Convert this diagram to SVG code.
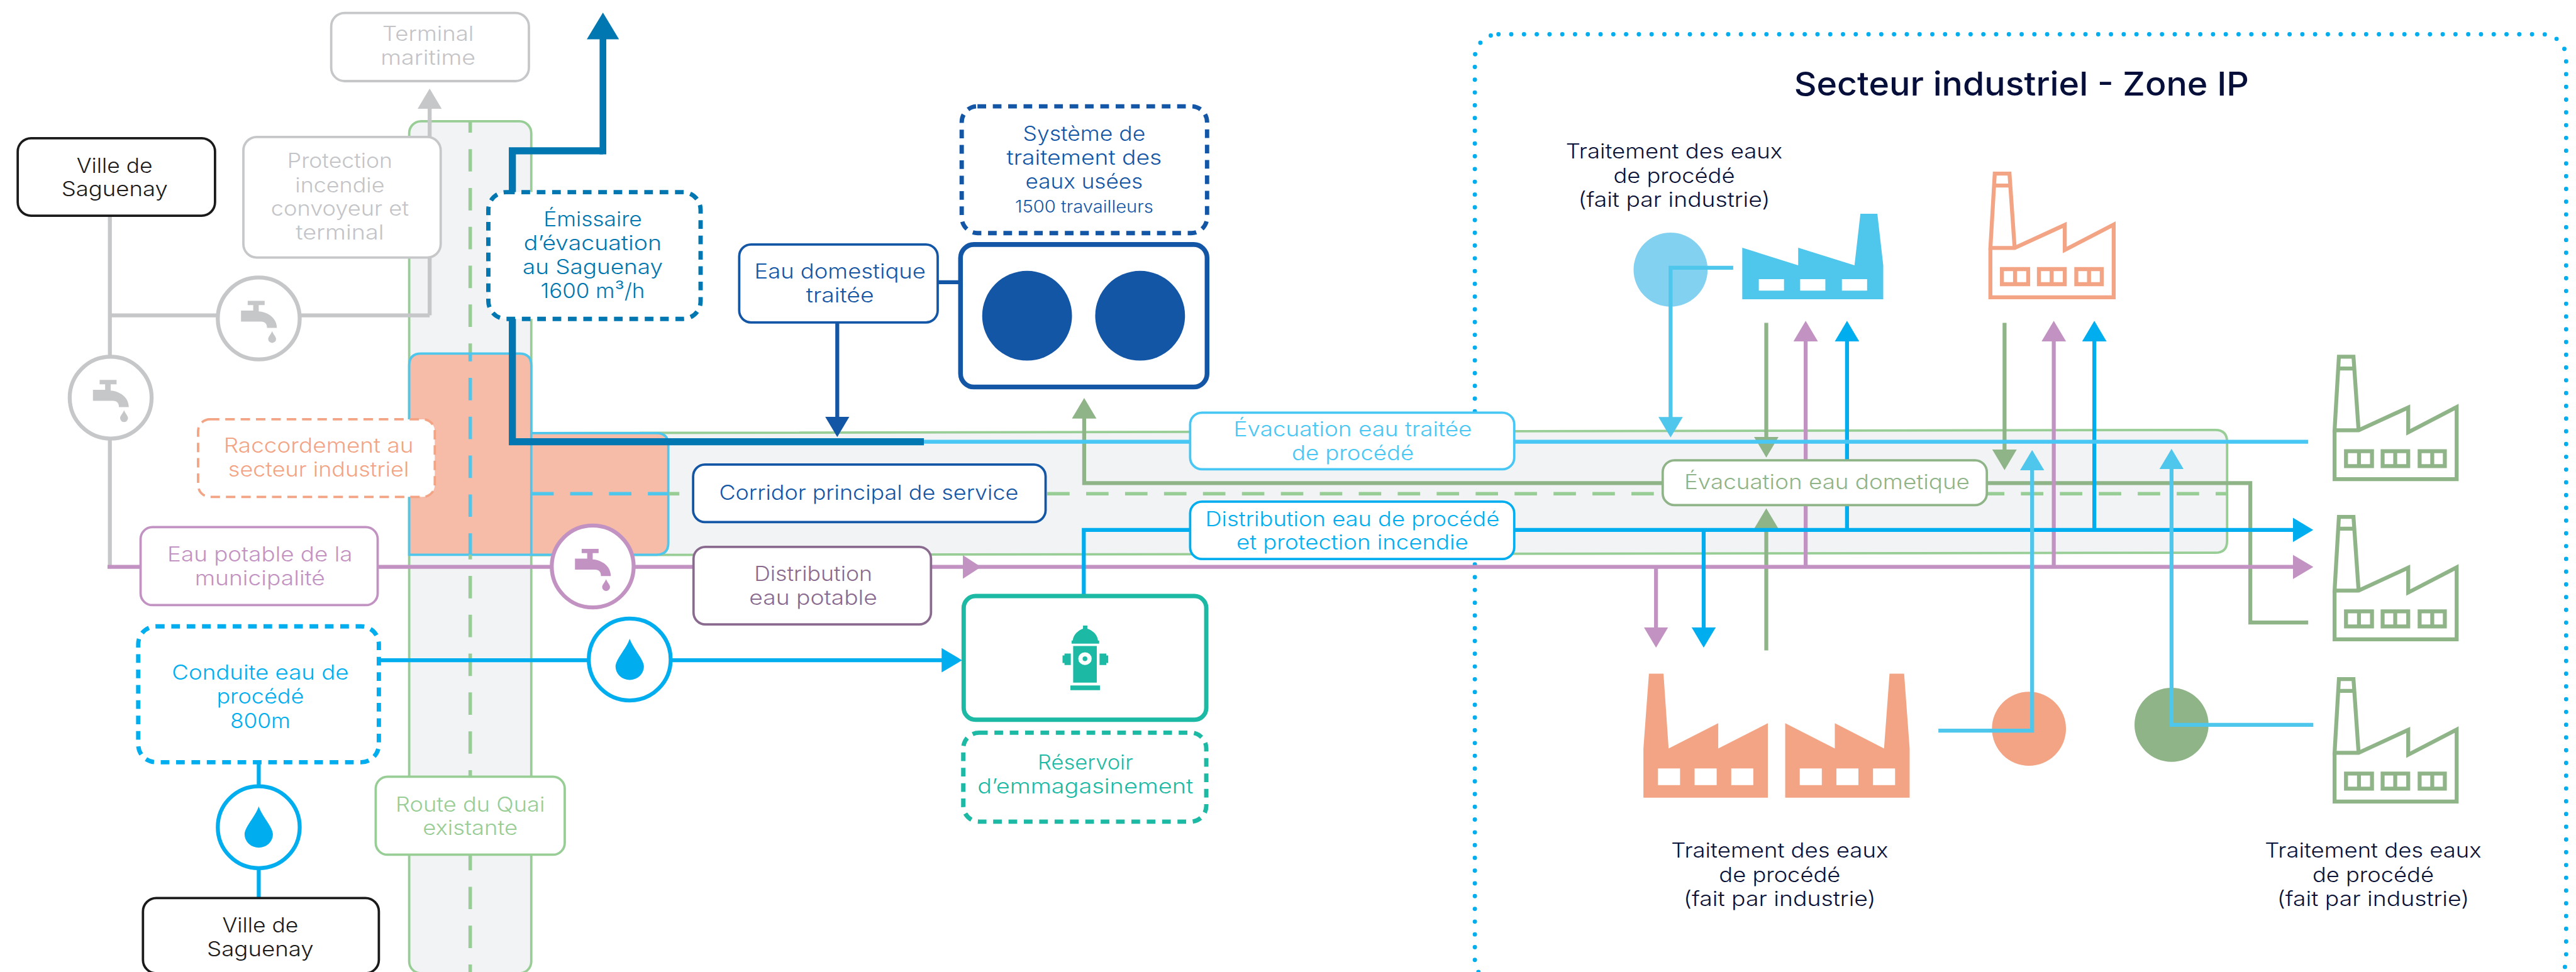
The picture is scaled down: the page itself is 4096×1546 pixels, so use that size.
<svg xmlns="http://www.w3.org/2000/svg" width="4096" height="1546" viewBox="0 0 4096 1546">
<style>
text{font-family:Inter,"Noto Sans",sans-serif;font-weight:300;font-size:53px;text-anchor:middle}
.s40{font-size:42px}
.title{font-size:84px;font-weight:500;fill:#060f3a}
.ink{fill:#0b1238}.black{fill:#1a1a1a}.grey{fill:#c3c4c7}.dk{fill:#0077b0}.navy{fill:#1456a6}.or{fill:#f3a484}.pu{fill:#c293c2}.pd{fill:#8a6b8f}.bl{fill:#00aeef}.lb{fill:#48c7f4}.rg{fill:#98cd96}.gn{fill:#8fb488}.te{fill:#1cb9a5}
.box{fill:#fff;stroke-width:6}
.dash{fill:#fff;stroke-width:11;stroke-dasharray:22 17}
.pipe{fill:none;stroke-width:10}
.cd{fill:none;stroke-width:9;stroke-dasharray:57 41.7}
.fa{fill:none;stroke-width:10}
</style>
<defs>
<marker id="aGrey" markerUnits="userSpaceOnUse" markerWidth="52" markerHeight="62" refX="10" refY="31" orient="auto"><path d="M0,0L52,31L0,62Z" fill="#c6c7c9"/></marker>
<marker id="aNavy" markerUnits="userSpaceOnUse" markerWidth="52" markerHeight="62" refX="10" refY="31" orient="auto"><path d="M0,0L52,31L0,62Z" fill="#1456a6"/></marker>
<marker id="aGreen" markerUnits="userSpaceOnUse" markerWidth="52" markerHeight="62" refX="10" refY="31" orient="auto"><path d="M0,0L52,31L0,62Z" fill="#8fb488"/></marker>
<marker id="aPurple" markerUnits="userSpaceOnUse" markerWidth="52" markerHeight="62" refX="10" refY="31" orient="auto"><path d="M0,0L52,31L0,62Z" fill="#c293c2"/></marker>
<marker id="aBlue" markerUnits="userSpaceOnUse" markerWidth="52" markerHeight="62" refX="10" refY="31" orient="auto"><path d="M0,0L52,31L0,62Z" fill="#00aeef"/></marker>
<marker id="aLight" markerUnits="userSpaceOnUse" markerWidth="52" markerHeight="62" refX="10" refY="31" orient="auto"><path d="M0,0L52,31L0,62Z" fill="#4fc6ec"/></marker>
<marker id="aDark" markerUnits="userSpaceOnUse" markerWidth="68" markerHeight="82" refX="10" refY="41" orient="auto"><path d="M0,0L68,41L0,82Z" fill="#0077b0"/></marker>
<path id="tap" d="M-28,-45H15V-34H0V-18C25,-16 46,0 46,24H21C21,14 16,8 6,8H-45V-20H-14V-34H-28ZM34,32C37,40 44,46 44,52A10,10 0 0 1 24,52C24,46 31,40 34,32Z"/>
<path id="drop" d="M0,-53C8,-28 36,0 36,18A36,34 0 0 1 -36,18C-36,0 -8,-28 0,-53Z"/>
<g id="factory">
<path class="fa" d="M4,191V315H314V132L191,196V133L65,191H4L15,4H52L65,191M11,34H57"/>
<path class="fa" d="M33,244H99V282H33ZM66,244V282M126,244H191V282H126ZM158,244V282M220,244H284V282H220ZM252,244V282"/>
</g>
<path id="filledFactoryA" d="M4173,1901L4187,1711H4224L4237,1901L4363,1837V1901L4489,1837V2026H4173ZM4210,1952V1994H4266V1952ZM4303,1952V1994H4359V1952ZM4396,1952V1994H4452V1952Z" fill-rule="evenodd"/>
</defs>
<rect width="4096" height="1546" fill="#fff"/>
<g transform="scale(0.6262)">

<rect id="zone-frame" x="3745" y="87" width="2771" height="2410" rx="60" fill="none" stroke="#00aeef" stroke-width="11" stroke-linecap="round" stroke-dasharray="0 32.4"/>

<g id="road">
<rect x="1039" y="308" width="310" height="2164" rx="30" fill="#f1f3f5" stroke="#98cd96" stroke-width="6"/>
<path class="cd" stroke="#98cd96" stroke-dashoffset="28" d="M1194,308V898"/>
</g>
<g id="corridor">
<path d="M1349,1100L5625,1092Q5655,1092 5655,1122V1374Q5655,1404 5625,1404L1349,1410Z" fill="#f1f3f5" stroke="#98cd96" stroke-width="6"/>
<path class="cd" stroke="#98cd96" style="stroke-dasharray:57 41.9" d="M2659,1254H5654"/>
</g>
<g id="raccordement-zone">
<path d="M1039,1409V928Q1039,898 1069,898H1319Q1349,898 1349,928V1100H1667Q1697,1100 1697,1130V1379Q1697,1409 1667,1409ZM1349,928V1409" fill="#f6bca8" stroke="#4fc6ec" stroke-width="6"/>
<path class="cd" stroke="#4fc6ec" stroke-dashoffset="37" d="M1194,898V1409"/>
<path class="cd" stroke="#4fc6ec" d="M1349,1254H1699"/>
<path class="pipe" stroke="#98cd96" d="M1699,1254H1725" style="stroke-width:9"/>
<path class="cd" stroke="#98cd96" stroke-dashoffset="45" d="M1194,1409V2469"/>
</g>

<g id="factory-blue">
<circle cx="4242" cy="685" r="94" fill="#83d1f1"/>
<path fill="#4fc6ec" fill-rule="evenodd" d="M4424,629L4566,674V629L4709,674L4724,543H4767L4782,674V760H4424ZM4466,709V738H4530V709ZM4571,709V738H4635V709ZM4677,709V738H4741V709Z"/>
</g>
<use id="factory-top" href="#factory" transform="translate(5050,437) scale(1.01)" stroke="#f3a484"/>
<g id="factory-salmon">
<circle cx="5152" cy="1851" r="94" fill="#f3a484"/>
<use href="#filledFactoryA" fill="#f3a484"/>
<path fill="#f3a484" fill-rule="evenodd" d="M4849,1901L4835,1711H4798L4784,1901L4659,1837V1901L4533,1837V2026H4849ZM4570,1952V1994H4626V1952ZM4663,1952V1994H4719V1952ZM4756,1952V1994H4812V1952Z"/>
</g>
<circle id="circle-green" cx="5514" cy="1841" r="94" fill="#8fb488"/>
<use id="factory-r1" href="#factory" transform="translate(5924,902)" stroke="#8fb488"/>
<use id="factory-r2" href="#factory" transform="translate(5924,1309)" stroke="#8fb488"/>
<use id="factory-r3" href="#factory" transform="translate(5924,1721)" stroke="#8fb488"/>

<g id="connectors">
<path class="pipe" stroke="#c6c7c9" d="M279,548V1440M279,801H1091"/>
<path class="pipe" stroke="#c6c7c9" marker-end="url(#aGrey)" d="M1091,801V267"/>
<path class="pipe" stroke="#1456a6" d="M2381,717H2439"/>
<path class="pipe" stroke="#8fb488" marker-end="url(#aGreen)" d="M5861,1581H5714V1227H2753V1053"/>
<path class="pipe" stroke="#8fb488" marker-end="url(#aGreen)" d="M4485,820V1120"/>
<path class="pipe" stroke="#8fb488" marker-end="url(#aGreen)" d="M5090,820V1152"/>
<path class="pipe" stroke="#8fb488" marker-end="url(#aGreen)" d="M4485,1652V1333"/>
<path class="pipe" stroke="#c293c2" marker-end="url(#aPurple)" d="M273,1440H5832"/>
<polygon points="2445,1410 2491,1440 2445,1470" fill="#c293c2"/>
<path class="pipe" stroke="#c293c2" marker-end="url(#aPurple)" d="M4585,1440V857"/>
<path class="pipe" stroke="#c293c2" marker-end="url(#aPurple)" d="M5215,1440V857"/>
<path class="pipe" stroke="#c293c2" marker-end="url(#aPurple)" d="M4205,1440V1603"/>
<path class="pipe" stroke="#00aeef" marker-end="url(#aBlue)" d="M962,1677H2401"/>
<path class="pipe" stroke="#00aeef" d="M657,1936V2281"/>
<path class="pipe" stroke="#00aeef" marker-end="url(#aBlue)" d="M2752,1512V1346H5832"/>
<path class="pipe" stroke="#00aeef" marker-end="url(#aBlue)" d="M4690,1346V857"/>
<path class="pipe" stroke="#00aeef" marker-end="url(#aBlue)" d="M5318,1346V857"/>
<path class="pipe" stroke="#00aeef" marker-end="url(#aBlue)" d="M4326,1346V1603"/>
<path class="pipe" stroke="#48c7f4" d="M2346,1122H5861"/>
<path class="pipe" stroke="#4fc6ec" marker-end="url(#aLight)" d="M4401,680H4242V1069"/>
<path class="pipe" stroke="#4fc6ec" marker-end="url(#aLight)" d="M4922,1856H5160V1185"/>
<path class="pipe" stroke="#4fc6ec" marker-end="url(#aLight)" d="M5874,1841H5514V1182"/>
<path class="pipe" stroke="#1456a6" marker-end="url(#aNavy)" d="M2126,819V1068"/>
<path class="pipe" style="stroke-width:18" stroke="#0077b0" d="M2346,1122H1301V383H1531"/>
<path class="pipe" style="stroke-width:17" stroke="#0077b0" marker-end="url(#aDark)" d="M1531,392V90"/>
</g>

<g id="terminal"><rect class="box" x="841" y="33" width="502" height="173" rx="34" stroke="#c6c7c9"/>
<text class="grey" x="1087" y="104" textLength="232" lengthAdjust="spacingAndGlyphs">Terminal</text>
<text class="grey" x="1087" y="165" textLength="241" lengthAdjust="spacingAndGlyphs">maritime</text></g>

<g id="ville-1"><rect class="box" x="45" y="351" width="501" height="197" rx="34" stroke="#1a1a1a"/>
<text class="black" x="291" y="439" textLength="193" lengthAdjust="spacingAndGlyphs">Ville de</text>
<text class="black" x="291" y="498" textLength="270" lengthAdjust="spacingAndGlyphs">Saguenay</text></g>

<g id="protection"><rect class="box" x="618" y="348" width="501" height="306" rx="34" stroke="#c6c7c9"/>
<text class="grey" x="863" y="427" textLength="267" lengthAdjust="spacingAndGlyphs">Protection</text>
<text class="grey" x="863" y="488" textLength="227" lengthAdjust="spacingAndGlyphs">incendie</text>
<text class="grey" x="863" y="548" textLength="350" lengthAdjust="spacingAndGlyphs">convoyeur et</text>
<text class="grey" x="863" y="609" textLength="224" lengthAdjust="spacingAndGlyphs">terminal</text></g>

<g id="tap-1"><circle cx="657" cy="809" r="104" fill="#fff" stroke="#c6c7c9" stroke-width="10"/><use href="#tap" x="657" y="809" fill="#c6c7c9"/></g>
<g id="tap-2"><circle cx="281" cy="1010" r="104" fill="#fff" stroke="#c6c7c9" stroke-width="10"/><use href="#tap" x="281" y="1010" fill="#c6c7c9"/></g>

<g id="emissaire"><rect class="dash" x="1240" y="488" width="539" height="322" rx="45" stroke="#0077b0"/>
<text class="dk" x="1505" y="575" textLength="250" lengthAdjust="spacingAndGlyphs">Émissaire</text>
<text class="dk" x="1505" y="636" textLength="350" lengthAdjust="spacingAndGlyphs">d’évacuation</text>
<text class="dk" x="1505" y="697" textLength="356" lengthAdjust="spacingAndGlyphs">au Saguenay</text>
<text class="dk" x="1505" y="757" textLength="265" lengthAdjust="spacingAndGlyphs">1600 m³/h</text></g>

<g id="raccordement"><rect class="box" x="503" y="1065" width="601" height="197" rx="30" stroke="#f3a484" stroke-dasharray="24 15"/>
<text class="or" x="809" y="1150" textLength="482" lengthAdjust="spacingAndGlyphs">Raccordement au</text>
<text class="or" x="809" y="1211" textLength="459" lengthAdjust="spacingAndGlyphs">secteur industriel</text></g>

<g id="eau-potable"><rect class="box" x="357" y="1339" width="602" height="198" rx="30" stroke="#c293c2"/>
<text class="pu" x="660" y="1426" textLength="470" lengthAdjust="spacingAndGlyphs">Eau potable de la</text>
<text class="pu" x="660" y="1486" textLength="331" lengthAdjust="spacingAndGlyphs">municipalité</text></g>

<g id="tap-purple"><circle cx="1505" cy="1439" r="104" fill="#fff" stroke="#c293c2" stroke-width="10"/><use href="#tap" x="1505" y="1439" fill="#c293c2"/></g>
<g id="drop-1"><circle cx="1599" cy="1675" r="104" fill="#fff" stroke="#00aeef" stroke-width="10"/><use href="#drop" x="1599" y="1675" fill="#00aeef"/></g>
<g id="drop-2"><circle cx="657" cy="2101" r="104" fill="#fff" stroke="#00aeef" stroke-width="10"/><use href="#drop" x="657" y="2101" fill="#00aeef"/></g>

<g id="conduite"><rect class="dash" x="351" y="1591" width="611" height="345" rx="45" stroke="#00aeef"/>
<text class="bl" x="661" y="1727" textLength="449" lengthAdjust="spacingAndGlyphs">Conduite eau de</text>
<text class="bl" x="661" y="1787" textLength="222" lengthAdjust="spacingAndGlyphs">procédé</text>
<text class="bl" x="661" y="1849" textLength="153" lengthAdjust="spacingAndGlyphs">800m</text></g>

<g id="ville-2"><rect class="box" x="363" y="2281" width="599" height="191" rx="34" stroke="#1a1a1a"/>
<text class="black" x="661" y="2369" textLength="193" lengthAdjust="spacingAndGlyphs">Ville de</text>
<text class="black" x="661" y="2429" textLength="271" lengthAdjust="spacingAndGlyphs">Saguenay</text></g>

<g id="route"><rect class="box" x="954" y="1973" width="480" height="198" rx="30" stroke="#98cd96"/>
<text class="rg" x="1194" y="2061" textLength="379" lengthAdjust="spacingAndGlyphs">Route du Quai</text>
<text class="rg" x="1194" y="2121" textLength="241" lengthAdjust="spacingAndGlyphs">existante</text></g>

<g id="systeme"><rect class="dash" x="2442" y="270" width="623" height="322" rx="40" stroke="#1456a6"/>
<text class="navy" x="2753" y="358" textLength="311" lengthAdjust="spacingAndGlyphs">Système de</text>
<text class="navy" x="2753" y="419" textLength="394" lengthAdjust="spacingAndGlyphs">traitement des</text>
<text class="navy" x="2753" y="479" textLength="298" lengthAdjust="spacingAndGlyphs">eaux usées</text>
<text class="navy s40" x="2753" y="540" textLength="351" lengthAdjust="spacingAndGlyphs">1500 travailleurs</text></g>

<g id="station"><rect x="2439" y="621" width="626" height="362" rx="34" fill="#fff" stroke="#1456a6" stroke-width="12"/>
<circle cx="2608" cy="802" r="114" fill="#1456a6"/><circle cx="2895" cy="802" r="114" fill="#1456a6"/></g>

<g id="eau-domestique"><rect class="box" x="1877" y="621" width="504" height="198" rx="30" stroke="#1456a6"/>
<text class="navy" x="2133" y="708" textLength="435" lengthAdjust="spacingAndGlyphs">Eau domestique</text>
<text class="navy" x="2133" y="768" textLength="172" lengthAdjust="spacingAndGlyphs">traitée</text></g>

<g id="corridor-label"><rect class="box" x="1760" y="1180" width="895" height="146" rx="30" stroke="#1456a6"/>
<text class="navy" x="2206" y="1269" textLength="760" lengthAdjust="spacingAndGlyphs">Corridor principal de service</text></g>

<g id="distribution-potable"><rect class="box" x="1761" y="1389" width="603" height="197" rx="30" stroke="#8a6b8f"/>
<text class="pd" x="2065" y="1476" textLength="300" lengthAdjust="spacingAndGlyphs">Distribution</text>
<text class="pd" x="2065" y="1537" textLength="325" lengthAdjust="spacingAndGlyphs">eau potable</text></g>

<g id="evacuation-traitee"><rect class="box" x="3022" y="1048" width="823" height="144" rx="30" stroke="#48c7f4"/>
<text class="lb" x="3435" y="1109" textLength="605" lengthAdjust="spacingAndGlyphs">Évacuation eau traitée</text>
<text class="lb" x="3435" y="1169" textLength="310" lengthAdjust="spacingAndGlyphs">de procédé</text></g>

<g id="distribution-procede"><rect class="box" x="3022" y="1274" width="823" height="146" rx="30" stroke="#00aeef"/>
<text class="bl" x="3434" y="1336" textLength="747" lengthAdjust="spacingAndGlyphs">Distribution eau de procédé</text>
<text class="bl" x="3434" y="1396" textLength="589" lengthAdjust="spacingAndGlyphs">et protection incendie</text></g>

<g id="evacuation-domestique"><rect class="box" x="4222" y="1169" width="823" height="114" rx="30" stroke="#8fb488"/>
<text class="gn" x="4639" y="1242" textLength="725" lengthAdjust="spacingAndGlyphs">Évacuation eau dometique</text></g>

<g id="reservoir"><rect x="2447" y="1514" width="616" height="314" rx="30" fill="#fff" stroke="#1cb9a5" stroke-width="11"/>
<path fill="#1cb9a5" d="M2750,1589H2761V1597C2774,1601 2787,1612 2788,1627H2791V1635H2721V1627H2724C2725,1612 2738,1601 2750,1597ZM2725,1641H2785V1734H2725ZM2698,1665H2703V1660H2719V1689H2703V1684H2698ZM2814,1665H2809V1660H2792V1689H2809V1684H2814ZM2718,1741H2793V1753H2718Z"/>
<ellipse cx="2755" cy="1673" rx="17" ry="16" fill="#fff"/><circle cx="2755" cy="1673" r="6" fill="#1cb9a5"/></g>

<g id="reservoir-label"><rect class="dash" x="2446" y="1861" width="617" height="226" rx="40" stroke="#1cb9a5"/>
<text class="te" x="2756" y="1955" textLength="242" lengthAdjust="spacingAndGlyphs">Réservoir</text>
<text class="te" x="2756" y="2015" textLength="548" lengthAdjust="spacingAndGlyphs">d’emmagasinement</text></g>

<g id="title"><text class="title" x="5133" y="243" textLength="1155" lengthAdjust="spacingAndGlyphs">Secteur industriel - Zone IP</text></g>

<g id="label-traitement-1">
<text class="ink" x="4251" y="403" textLength="550" lengthAdjust="spacingAndGlyphs">Traitement des eaux</text>
<text class="ink" x="4251" y="465" textLength="308" lengthAdjust="spacingAndGlyphs">de procédé</text>
<text class="ink" x="4251" y="526" textLength="487" lengthAdjust="spacingAndGlyphs">(fait par industrie)</text></g>
<g id="label-traitement-2">
<text class="ink" x="4519" y="2179" textLength="551" lengthAdjust="spacingAndGlyphs">Traitement des eaux</text>
<text class="ink" x="4519" y="2240" textLength="308" lengthAdjust="spacingAndGlyphs">de procédé</text>
<text class="ink" x="4519" y="2301" textLength="488" lengthAdjust="spacingAndGlyphs">(fait par industrie)</text></g>
<g id="label-traitement-3">
<text class="ink" x="6026" y="2179" textLength="550" lengthAdjust="spacingAndGlyphs">Traitement des eaux</text>
<text class="ink" x="6026" y="2240" textLength="308" lengthAdjust="spacingAndGlyphs">de procédé</text>
<text class="ink" x="6026" y="2301" textLength="488" lengthAdjust="spacingAndGlyphs">(fait par industrie)</text></g>
</g>
</svg>
